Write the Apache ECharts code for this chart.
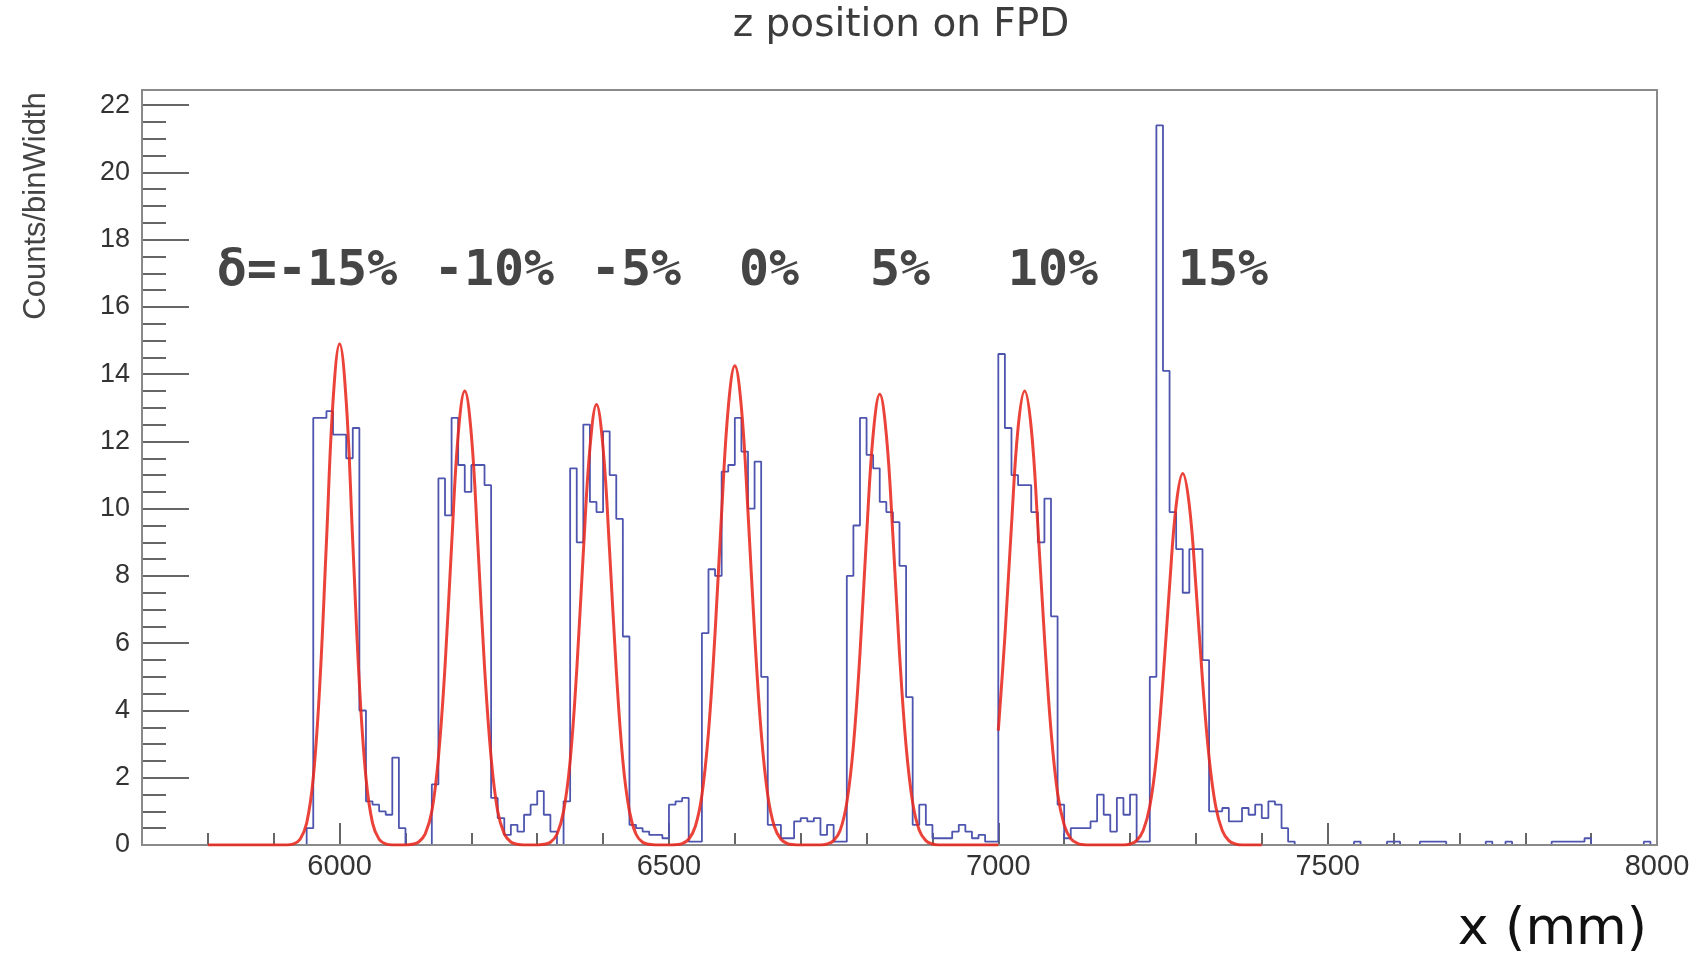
<!DOCTYPE html>
<html>
<head>
<meta charset="utf-8">
<script src="https://cdn.jsdelivr.net/npm/echarts@6/dist/echarts.min.js"></script>
<style>
  html, body { margin: 0; padding: 0; background: #fff; }
  #chart { width: 1698px; height: 962px; }
</style>
</head>
<body>
<div id="chart"></div>
<script>
// histogram: 10 mm bins starting at 5700 mm (Counts/binWidth)
const binStart = 5700;
const binWidth = 10;
const counts = [
  0, 0, 0, 0, 0, 0, 0, 0, 0, 0,                       // 5700
  0, 0, 0, 0, 0, 0, 0, 0, 0, 0,                       // 5800
  0, 0, 0, 0, 0, 0.5, 12.7, 12.7, 12.9, 12.2,         // 5900
  12.2, 11.5, 12.4, 4.0, 1.3, 1.2, 1.0, 0.9, 2.6, 0.5, // 6000
  0, 0, 0, 0, 1.8, 10.9, 9.8, 12.7, 11.3, 10.5,       // 6100
  11.3, 11.3, 10.7, 1.4, 0.8, 0.3, 0.6, 0.4, 0.9, 1.2, // 6200
  1.6, 0.9, 0.4, 0, 1.3, 11.2, 9.0, 12.5, 10.2, 9.9,  // 6300
  12.3, 11.0, 9.7, 6.2, 0.6, 0.5, 0.4, 0.3, 0.3, 0.2, // 6400
  1.2, 1.3, 1.4, 0.1, 0.1, 6.3, 8.2, 8.0, 11.1, 11.3, // 6500
  12.7, 11.7, 10.0, 11.4, 5.0, 0.6, 0.6, 0.2, 0.2, 0.7, // 6600
  0.8, 0.7, 0.8, 0.3, 0.6, 0.1, 0.1, 8.0, 9.5, 12.7,  // 6700
  11.6, 11.2, 10.2, 9.9, 9.6, 8.3, 4.4, 0.6, 1.2, 0.6, // 6800
  0.2, 0.2, 0.2, 0.4, 0.6, 0.4, 0.2, 0.3, 0.1, 0.1,   // 6900
  14.6, 12.4, 11.0, 10.7, 10.7, 9.9, 9.0, 10.3, 6.8, 1.2, // 7000
  0.2, 0.5, 0.5, 0.5, 0.7, 1.5, 0.9, 0.4, 1.4, 0.9,   // 7100
  1.5, 0.1, 0.1, 5.0, 21.4, 14.1, 9.9, 8.8, 7.5, 8.8, // 7200
  8.8, 5.5, 1.0, 1.0, 1.1, 0.7, 0.7, 1.1, 0.9, 1.2,   // 7300
  0.8, 1.3, 1.2, 0.5, 0.1, 0, 0, 0, 0, 0,             // 7400
  0, 0, 0, 0, 0.1, 0, 0, 0, 0, 0.1,                   // 7500
  0.1, 0, 0, 0, 0.1, 0.1, 0.1, 0.1, 0, 0,             // 7600
  0, 0, 0, 0, 0.1, 0, 0, 0.1, 0, 0,                   // 7700
  0, 0, 0, 0, 0.1, 0.1, 0.1, 0.1, 0.1, 0.2,           // 7800
  0, 0, 0, 0, 0, 0, 0, 0, 0.1, 0                      // 7900
];

// gaussian fits [x (mm), value]
const fitLow = [
  [5800, 0], [5920, 0], [5930, 0.03], [5940, 0.17], [5950, 0.65], [5960, 2.0], [5970, 4.8],
  [5980, 9.0], [5990, 13.2], [6000, 14.9], [6010, 13.2], [6020, 9.0], [6030, 4.8], [6040, 2.0],
  [6050, 0.65], [6060, 0.17], [6070, 0.03], [6080, 0], [6100, 0],
  [6110, 0.02], [6120, 0.09], [6130, 0.33], [6140, 1.0], [6150, 2.6], [6160, 5.3], [6170, 8.9],
  [6180, 12.2], [6190, 13.5], [6200, 12.2], [6210, 8.9], [6220, 5.3], [6230, 2.6], [6240, 1.0],
  [6250, 0.33], [6260, 0.09], [6270, 0.02], [6280, 0], [6300, 0],
  [6310, 0.02], [6320, 0.08], [6330, 0.32], [6340, 1.0], [6350, 2.5], [6360, 5.2], [6370, 8.7],
  [6380, 11.8], [6390, 13.1], [6400, 11.8], [6410, 8.7], [6420, 5.2], [6430, 2.5], [6440, 1.0],
  [6450, 0.32], [6460, 0.08], [6470, 0.02], [6480, 0], [6500, 0],
  [6510, 0.01], [6520, 0.04], [6530, 0.17], [6540, 0.55], [6550, 1.48], [6560, 3.35], [6570, 6.3],
  [6580, 9.9], [6590, 13.0], [6600, 14.25], [6610, 13.0], [6620, 9.9], [6630, 6.3], [6640, 3.35],
  [6650, 1.48], [6660, 0.55], [6670, 0.17], [6680, 0.04], [6690, 0.01], [6700, 0], [6730, 0],
  [6740, 0.03], [6750, 0.13], [6760, 0.44], [6770, 1.26], [6780, 2.95], [6790, 5.7], [6800, 9.2],
  [6810, 12.2], [6820, 13.4], [6830, 12.2], [6840, 9.2], [6850, 5.7], [6860, 2.95], [6870, 1.26],
  [6880, 0.44], [6890, 0.13], [6900, 0.03], [6910, 0], [7000, 0]
];
const fitHigh = [
  [7000, 3.4], [7010, 6.2], [7020, 9.5], [7030, 12.4], [7040, 13.5], [7050, 12.4], [7060, 9.5],
  [7070, 6.2], [7080, 3.4], [7090, 1.54], [7100, 0.6], [7110, 0.19], [7120, 0.05], [7130, 0.01],
  [7140, 0], [7190, 0],
  [7200, 0.03], [7210, 0.13], [7220, 0.43], [7230, 1.15], [7240, 2.6], [7250, 4.9], [7260, 7.7],
  [7270, 10.1], [7280, 11.05], [7290, 10.1], [7300, 7.7], [7310, 4.9], [7320, 2.6], [7330, 1.15],
  [7340, 0.43], [7350, 0.13], [7360, 0.03], [7370, 0], [7400, 0]
];

const xMajorTicks = [6000, 6500, 7000, 7500, 8000];
const xMinorTicks = [5800, 5900, 6100, 6200, 6300, 6400, 6600, 6700, 6800, 6900,
                     7100, 7200, 7300, 7400, 7600, 7700, 7800, 7900];
const yMajorTicks = [0, 2, 4, 6, 8, 10, 12, 14, 16, 18, 20, 22];
const yMinorTicks = [0.5, 1, 1.5, 2.5, 3, 3.5, 4.5, 5, 5.5, 6.5, 7, 7.5, 8.5, 9, 9.5,
                     10.5, 11, 11.5, 12.5, 13, 13.5, 14.5, 15, 15.5, 16.5, 17, 17.5,
                     18.5, 19, 19.5, 20.5, 21, 21.5];
const deltaLabels = ['δ=-15%', '-10%', '-5%', '0%', '5%', '10%', '15%'];
const deltaLabelX = [307, 494, 636, 769, 900, 1053, 1223];

const chart = echarts.init(document.getElementById('chart'));

const histData = counts.map((v, i) => [binStart + i * binWidth, v]);
histData.push([binStart + counts.length * binWidth, counts[counts.length - 1]]);

const plot = { left: 142, top: 90, width: 1515, height: 755 };
const tickColor = '#666';
const labelFont = { fontFamily: 'Liberation Sans', color: '#333' };

const baseX = {
  type: 'value', min: 5700, max: 8000, position: 'bottom',
  axisLine: { show: false }, splitLine: { show: false }
};
const baseY = {
  type: 'value', min: 0, max: 22.45, position: 'left',
  axisLine: { show: false }, splitLine: { show: false }
};

const option = {
  animation: false,
  grid: { left: plot.left, top: plot.top, width: plot.width, height: plot.height },
  xAxis: [
    Object.assign({}, baseX, {
      axisTick: { inside: true, length: 22, customValues: xMajorTicks,
                  lineStyle: { color: tickColor, width: 2 } },
      axisLabel: Object.assign({ customValues: xMajorTicks, fontSize: 29, margin: 7,
                                 formatter: v => String(v) }, labelFont)
    }),
    Object.assign({}, baseX, {
      axisTick: { inside: true, length: 12, customValues: xMinorTicks,
                  lineStyle: { color: tickColor, width: 2 } },
      axisLabel: { show: false }
    })
  ],
  yAxis: [
    Object.assign({}, baseY, {
      axisTick: { inside: true, length: 47, customValues: yMajorTicks,
                  lineStyle: { color: tickColor, width: 2 } },
      axisLabel: Object.assign({ customValues: yMajorTicks, fontSize: 27, margin: 12,
                                 formatter: v => String(v) }, labelFont)
    }),
    Object.assign({}, baseY, {
      axisTick: { inside: true, length: 24, customValues: yMinorTicks,
                  lineStyle: { color: tickColor, width: 2 } },
      axisLabel: { show: false }
    })
  ],
  series: [
    {
      name: 'hist', type: 'line', step: 'end', data: histData,
      showSymbol: false, z: 2,
      lineStyle: { color: '#4d55ae', width: 1.8 }
    },
    {
      name: 'fitLow', type: 'line', data: fitLow, smooth: 0.4,
      showSymbol: false, z: 5,
      lineStyle: { color: '#e8291f', width: 3, opacity: 0.88 }
    },
    {
      name: 'fitHigh', type: 'line', data: fitHigh, smooth: 0.4,
      showSymbol: false, z: 5,
      lineStyle: { color: '#e8291f', width: 3, opacity: 0.88 }
    }
  ],
  graphic: [
    {
      type: 'rect', z: 3, silent: true,
      shape: { x: plot.left, y: plot.top, width: plot.width, height: plot.height },
      style: { fill: 'none', stroke: '#8a8a8a', lineWidth: 2 }
    },
    {
      type: 'text', x: 901, y: 26, z: 10,
      style: { text: 'z position on FPD', font: '39px "DejaVu Sans"', fill: '#3c3c3c',
               align: 'center', verticalAlign: 'middle' }
    },
    {
      type: 'text', x: 36, y: 206, rotation: Math.PI / 2, z: 10,
      style: { text: 'Counts/binWidth', font: '31px "Liberation Sans"', fill: '#444',
               align: 'center', verticalAlign: 'middle' }
    },
    {
      type: 'text', x: 1647, y: 930, z: 10,
      style: { text: 'x (mm)', font: '52px "DejaVu Sans"', fill: '#111',
               align: 'right', verticalAlign: 'middle' }
    }
  ].concat(deltaLabels.map((t, i) => ({
    type: 'text', x: deltaLabelX[i], y: 272, z: 10,
    style: { text: t, font: 'bold 50px "DejaVu Sans Mono"', fill: '#454545',
             align: 'center', verticalAlign: 'middle' }
  })))
};

chart.setOption(option);
</script>
</body>
</html>
